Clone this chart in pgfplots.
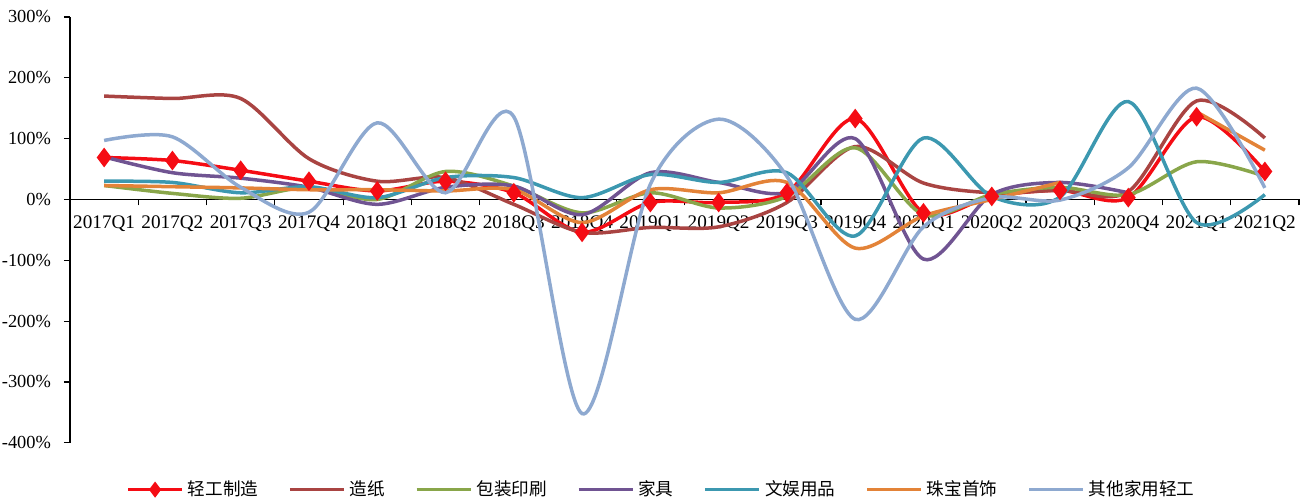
\documentclass[border=0pt]{standalone}
\usepackage{pgfplots}
\pgfplotsset{compat=1.18}
\usepackage{fontspec}
\setmainfont{Liberation Serif}
\newfontfamily\cjk{Noto Sans CJK SC}
\definecolor{cA}{RGB}{245,12,20}
\definecolor{cB}{RGB}{169,68,66}
\definecolor{cC}{RGB}{137,166,74}
\definecolor{cD}{RGB}{112,84,146}
\definecolor{cE}{RGB}{60,152,176}
\definecolor{cF}{RGB}{227,131,56}
\definecolor{cG}{RGB}{142,169,208}
\begin{document}
\begin{tikzpicture}
\begin{axis}[name=ax,
  scale only axis, width=614.5pt, height=212.9pt,
  xmin=-0.5, xmax=17.5, ymin=-400, ymax=300,
  axis x line=middle, axis y line=left,
  x axis line style={-, line width=0.6pt}, y axis line style={-, line width=0.6pt},
  tick align=outside, major tick length=3pt,
  tick style={black, line width=0.6pt},
  xtick={-0.5,0.5,...,17.5}, xticklabels={},
  extra x ticks={0,...,17},
  extra x tick labels={2017Q1,2017Q2,2017Q3,2017Q4,2018Q1,2018Q2,2018Q3,2018Q4,2019Q1,2019Q2,2019Q3,2019Q4,2020Q1,2020Q2,2020Q3,2020Q4,2021Q1,2021Q2},
  extra x tick style={tick style={draw=none}},
  xticklabel style={font=\fontsize{9.6}{11}\selectfont, yshift=-1.5pt},
  ytick={-400,-300,...,300},
  yticklabel={\pgfmathprintnumber{\tick}\%},
  yticklabel style={font=\fontsize{9.2}{11}\selectfont, xshift=-3pt},
  /pgf/number format/assume math mode=true,
  unbounded coords=jump,
  clip=false,
  every axis plot/.append style={line width=1.75pt, smooth, tension=0.5},
  legend columns=7,
  legend style={at={(0.482,-0.11)}, anchor=center, draw=none, fill=none,
    font=\cjk\fontsize{8.8}{10}\selectfont,
    /tikz/every even column/.append style={column sep=13pt}},
  legend image code/.code={\draw[mark repeat=2,mark phase=2,#1,mark size=2.6pt] plot coordinates {(0pt,0pt) (13.5pt,0pt) (27pt,0pt)};},
]
\addplot[cA, mark=diamond*, mark size=3.5pt, mark options={solid}] coordinates {
(0,69) (1,64) (2,48) (3,30) (4,14) (5,30) (6,11) (7,-54) (8,-5) (9,-5) (10,11) (11,133) (12,-22) (13,5) (14,15) (15,3) (16,136) (17,46)};
\addlegendentry{轻工制造}
\addplot[cB] coordinates {
(0,170) (1,166) (2,166) (3,67) (4,30) (5,36) (6,-8) (7,-54) (8,-46) (9,-45) (10,-5) (11,87) (12,27) (13,11) (14,15) (15,13) (16,162) (17,101)};
\addlegendentry{造纸}
\addplot[cC] coordinates {
(0,23) (1,10) (2,2) (3,20) (4,0) (5,46) (6,22) (7,-22) (8,11) (9,-14) (10,5) (11,85) (12,-25) (13,8) (14,20) (15,8) (16,62) (17,38)};
\addlegendentry{包装印刷}
\addplot[cD] coordinates {
(0,70) (1,44) (2,35) (3,20) (4,-8) (5,20) (6,22) (7,-25) (8,44) (9,28) (10,12) (11,100) (12,-98) (13,8) (14,28) (15,11)};
\addlegendentry{家具}
\addplot[cE] coordinates {
(0,30) (1,28) (2,11) (3,21) (4,3) (5,36) (6,36) (7,3) (8,41) (9,28) (10,44) (11,-60) (12,101) (13,5) (14,4) (15,161) (16,-38) (17,8)};
\addlegendentry{文娱用品}
\addplot[cF] coordinates {
(0,23) (1,21) (2,19) (3,16) (4,16) (5,14) (6,16) (7,-38) (8,16) (9,11) (10,28) (11,-80) (12,-27) (13,0) (14,28) (15,nan) (16,144) (17,81)};
\addlegendentry{珠宝首饰}
\addplot[cG] coordinates {
(0,97) (1,103) (2,20) (3,-21) (4,126) (5,11) (6,136) (7,-352) (8,25) (9,132) (10,38) (11,-197) (12,-45) (13,3) (14,-1) (15,52) (16,183) (17,19)};
\addlegendentry{其他家用轻工}
\end{axis}
\pgfresetboundingbox
\path (ax.south west) ++(-35pt,-28.1pt) coordinate (bl);
\path (ax.north east) ++(2.5pt,8.5pt) coordinate (tr);
\path (bl) rectangle (tr);
\end{tikzpicture}
\end{document}
